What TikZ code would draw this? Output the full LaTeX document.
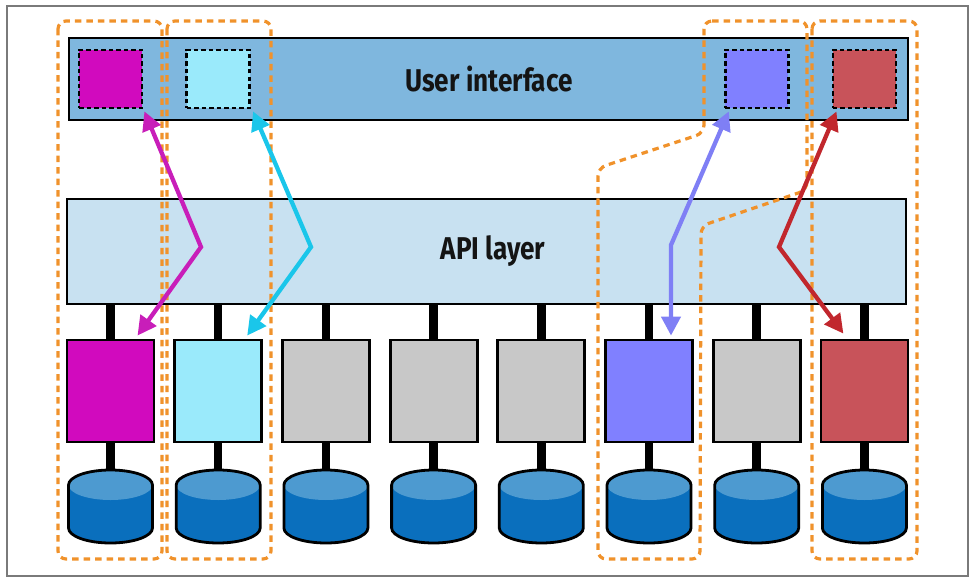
\documentclass[tikz,border=0pt]{standalone}
\usepackage{fontspec}
\setmainfont{Fira Sans}
\newfontfamily\lblfont[FakeStretch=0.83]{Fira Sans Bold}
\usetikzlibrary{arrows.meta,calc}
\definecolor{uiblue}{HTML}{7FB7DE}
\definecolor{apiblue}{HTML}{C8E1F1}
\definecolor{magbox}{HTML}{D10ABE}
\definecolor{magarr}{HTML}{C81EB9}
\definecolor{cyanbox}{HTML}{9AEAFB}
\definecolor{cyanarr}{HTML}{1AC6EA}
\definecolor{purbox}{HTML}{8080FF}
\definecolor{purarr}{HTML}{7F7FF5}
\definecolor{redbox}{HTML}{C8535A}
\definecolor{redarr}{HTML}{C1272D}
\definecolor{graybox}{HTML}{C8C8C8}
\definecolor{dbtop}{HTML}{4D9AD0}
\definecolor{dbbody}{HTML}{0A6FBD}
\definecolor{grp}{HTML}{F0922B}
\definecolor{framegray}{HTML}{7A7A7A}
\tikzset{
  layer/.style={draw=black, line width=2.6pt, minimum width=839pt, inner sep=0pt},
  uisq/.style={draw=black, line width=2.8pt, dash pattern=on 4.5pt off 3pt, minimum width=63pt, minimum height=58pt, inner sep=0pt},
  svc/.style={draw=black, line width=2.8pt, minimum width=87pt, minimum height=102pt, inner sep=0pt},
  stem/.style={line width=8.5pt, black},
  group/.style={draw=grp, line width=3.2pt, dash pattern=on 6.5pt off 5pt, rounded corners=8pt},
  flow/.style={line width=4.3pt, {Triangle[length=19pt,width=19pt]}-{Triangle[length=19pt,width=19pt]}},
  lbl/.style={font=\lblfont\fontsize{31.5}{31.5}\selectfont, text=black!92}
}
\begin{document}
\begin{tikzpicture}[x=1pt,y=-1pt]
\useasboundingbox (0,0) rectangle (974,586);
\draw[framegray, line width=2pt] (7,6) rectangle (968,576);
% layers
\node[layer, fill=uiblue, minimum height=82pt] (ui) at (488.5,79) {};
\node[lbl] (uit) at (489,79) {User interface};
\node[uisq, fill=magbox] (um) at (110.5,79) {};
\node[uisq, fill=cyanbox] (uc) at (218.2,79) {};
\node[uisq, fill=purbox] (up) at (756.7,79) {};
\node[uisq, fill=redbox] (ur) at (864.4,79) {};
\node[layer, fill=apiblue, minimum height=105pt] (api) at (486.5,251.5) {};
\node[lbl] (apit) at (493,251) {API layer};
% services and databases
\foreach \i/\c in {1/magbox,2/cyanbox,3/graybox,4/graybox,5/graybox,6/purbox,7/graybox,8/redbox}{
  \pgfmathsetmacro{\cx}{110.5+(\i-1)*107.7}
  \node[svc, fill=\c] (s\i) at (\cx,391) {};
  \coordinate (d\i) at (\cx,470);
  \draw[stem] (api.south -| s\i) -- (s\i.north);
  \draw[stem] (s\i.south) -- (d\i);
  \fill[dbbody] ($(d\i)+(-42,15)$) -- ++(0,43) arc[start angle=180,end angle=0,x radius=42,y radius=15] -- ++(0,-43) arc[start angle=0,end angle=-180,x radius=42,y radius=15] -- cycle;
  \fill[dbtop] ($(d\i)+(0,15)$) ellipse[x radius=42,y radius=15];
  \draw[black, line width=2.8pt] ($(d\i)+(-42,15)$) -- ++(0,43) arc[start angle=180,end angle=0,x radius=42,y radius=15] -- ++(0,-43) arc[start angle=0,end angle=-180,x radius=42,y radius=15] -- cycle;
}
% groups
\draw[group] (58,21) rectangle (162,559);
\draw[group] (167,21) rectangle (271,559);
\draw[group] (812,21) rectangle (917,559);
\draw[group] (704,21) -- (807,21) -- (807,190) -- (701,226) -- (700,559) -- (598,559) -- (598,168) -- (704,133) -- cycle;
% flows
\coordinate (bm) at (201,247);
\coordinate (bc) at (311,247);
\coordinate (bp) at (671,245);
\coordinate (br) at (779,247);
\draw[flow, magarr] ($(um.south east)+(1,2)$) -- (bm) -- ($(s1.north)+(27,-3)$);
\draw[flow, cyanarr] ($(uc.south east)+(2,2)$) -- (bc) -- ($(s2.north)+(29,-3)$);
\draw[flow, purarr] ($(up.south west)+(5,2)$) -- (bp) -- ($(s6.north)+(22,-3)$);
\draw[flow, redarr] ($(ur.south west)+(5,2)$) -- (br) -- ($(s8.north)+(-21,-5)$);
\end{tikzpicture}
\end{document}
